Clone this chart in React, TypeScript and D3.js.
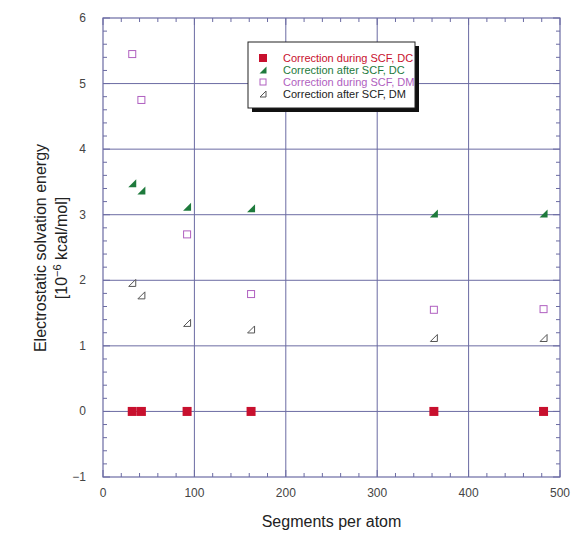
import React, { useEffect, useRef } from "react";
import * as d3 from "d3";

const segments = [32, 42, 92, 162, 362, 482];
const duringDC = [0, 0, 0, 0, 0, 0];
const afterDC = [3.48, 3.37, 3.12, 3.1, 3.02, 3.02];
const duringDM = [5.45, 4.75, 2.7, 1.79, 1.55, 1.56];
const afterDM = [1.96, 1.77, 1.35, 1.25, 1.12, 1.12];
const xTicks = [0, 100, 200, 300, 400, 500];
const yTicks = [-1, 0, 1, 2, 3, 4, 5, 6];
const legendLabels = [
  "Correction during SCF, DC",
  "Correction after SCF, DC",
  "Correction during SCF, DM",
  "Correction after SCF, DM",
];

const font = "Helvetica, Arial, 'Liberation Sans', sans-serif";
const axisColor = "#6b6ba3";
const red = "#c8102e";
const green = "#1e7a3c";
const purple = "#b060c0";
const gray = "#555";

export default function App() {
  const ref = useRef<SVGSVGElement>(null);

  useEffect(() => {
    const svg = d3.select(ref.current);
    svg.selectAll("*").remove();

    const x = d3.scaleLinear().domain([0, 500]).range([103, 560]);
    const y = d3.scaleLinear().domain([-1, 6]).range([477, 18]);

    const g = svg.append("g");

    // grid
    g.selectAll(".vg").data(xTicks.slice(1, -1)).join("line")
      .attr("x1", (d) => x(d)).attr("x2", (d) => x(d))
      .attr("y1", y(-1)).attr("y2", y(6))
      .attr("stroke", axisColor).attr("stroke-width", 1);
    g.selectAll(".hg").data(yTicks.slice(1, -1)).join("line")
      .attr("x1", x(0)).attr("x2", x(500))
      .attr("y1", (d) => y(d)).attr("y2", (d) => y(d))
      .attr("stroke", axisColor).attr("stroke-width", 1);

    // minor ticks
    const xMinor = d3.range(0, 501, 20);
    const yMinor = d3.range(-1, 6.001, 0.2);
    xMinor.forEach((v) => {
      const len = v % 100 === 0 ? 7 : 4;
      g.append("line").attr("x1", x(v)).attr("x2", x(v)).attr("y1", y(-1)).attr("y2", y(-1) - len).attr("stroke", axisColor);
      g.append("line").attr("x1", x(v)).attr("x2", x(v)).attr("y1", y(6)).attr("y2", y(6) + len).attr("stroke", axisColor);
    });
    yMinor.forEach((v) => {
      const len = Math.abs(v - Math.round(v)) < 0.01 ? 7 : 4;
      g.append("line").attr("x1", x(0)).attr("x2", x(0) + len).attr("y1", y(v)).attr("y2", y(v)).attr("stroke", axisColor);
      g.append("line").attr("x1", x(500)).attr("x2", x(500) - len).attr("y1", y(v)).attr("y2", y(v)).attr("stroke", axisColor);
    });

    g.append("rect").attr("x", x(0)).attr("y", y(6))
      .attr("width", x(500) - x(0)).attr("height", y(-1) - y(6))
      .attr("fill", "none").attr("stroke", axisColor).attr("stroke-width", 1.2);

    // tick labels
    g.selectAll(".xl").data(xTicks).join("text")
      .attr("x", (d) => x(d)).attr("y", 497).attr("text-anchor", "middle")
      .style("font-family", font).style("font-size", "12px").attr("fill", "#444")
      .text((d) => d);
    g.selectAll(".yl").data(yTicks).join("text")
      .attr("x", 86).attr("y", (d) => y(d) + 4).attr("text-anchor", "end")
      .style("font-family", font).style("font-size", "12px").attr("fill", "#444")
      .text((d) => (d < 0 ? "\u2212" + Math.abs(d) : d));

    // axis titles
    g.append("text").attr("x", (x(0) + x(500)) / 2).attr("y", 527).attr("text-anchor", "middle")
      .style("font-family", font).style("font-size", "16px").attr("fill", "#222")
      .text("Segments per atom");
    const yt = g.append("text").attr("transform", "translate(46, 248) rotate(-90)")
      .attr("text-anchor", "middle").style("font-family", font).style("font-size", "16px").attr("fill", "#222");
    yt.append("tspan").attr("x", 0).attr("y", 0).text("Electrostatic solvation energy");
    const t2 = yt.append("tspan").attr("x", 0).attr("y", 21);
    t2.append("tspan").text("[10");
    t2.append("tspan").attr("dy", -6).style("font-size", "11px").text("\u22126");
    t2.append("tspan").attr("dy", 6).text(" kcal/mol]");

    // markers
    const tri = (cx: number, cy: number, s: number) =>
      `M${cx - s},${cy + s}L${cx + s},${cy + s}L${cx + s},${cy - s}Z`;

    g.selectAll(".dm").data(segments).join("rect")
      .attr("x", (d) => x(d) - 3.5).attr("y", (d, i) => y(duringDM[i]) - 3.5)
      .attr("width", 7).attr("height", 7).attr("fill", "white").attr("stroke", purple).attr("stroke-width", 1);
    g.selectAll(".adm").data(segments).join("path")
      .attr("d", (d, i) => tri(x(d), y(afterDM[i]), 3.5))
      .attr("fill", "white").attr("stroke", gray).attr("stroke-width", 1);
    g.selectAll(".adc").data(segments).join("path")
      .attr("d", (d, i) => tri(x(d), y(afterDC[i]), 4))
      .attr("fill", green);
    g.selectAll(".ddc").data(segments).join("rect")
      .attr("x", (d) => x(d) - 4.5).attr("y", (d, i) => y(duringDC[i]) - 4.5)
      .attr("width", 9).attr("height", 9).attr("fill", red);

    // legend
    const lg = svg.append("g").attr("transform", "translate(248, 42)");
    lg.append("rect").attr("x", 4).attr("y", 4).attr("width", 167).attr("height", 66).attr("fill", "#111");
    lg.append("rect").attr("x", 0).attr("y", 0).attr("width", 167).attr("height", 66)
      .attr("fill", "white").attr("stroke", "#222").attr("stroke-width", 1);
    const colors = [red, green, purple, "#222"];
    legendLabels.forEach((lab, i) => {
      const cy = 16 + i * 12;
      if (i === 0) lg.append("rect").attr("x", 11).attr("y", cy - 4).attr("width", 8).attr("height", 8).attr("fill", red);
      if (i === 1) lg.append("path").attr("d", tri(15, cy, 3.5)).attr("fill", green);
      if (i === 2) lg.append("rect").attr("x", 12).attr("y", cy - 3).attr("width", 6).attr("height", 6).attr("fill", "white").attr("stroke", purple);
      if (i === 3) lg.append("path").attr("d", tri(15, cy, 3)).attr("fill", "white").attr("stroke", gray);
      lg.append("text").attr("x", 35).attr("y", cy + 4)
        .style("font-family", font).style("font-size", "11px").attr("fill", colors[i])
        .text(lab);
    });
  }, []);

  return (
    <div style={{ position: "absolute", left: 0, top: 0 }}>
      <svg ref={ref} width={572} height={533} style={{ display: "block", background: "white" }} />
    </div>
  );
}
